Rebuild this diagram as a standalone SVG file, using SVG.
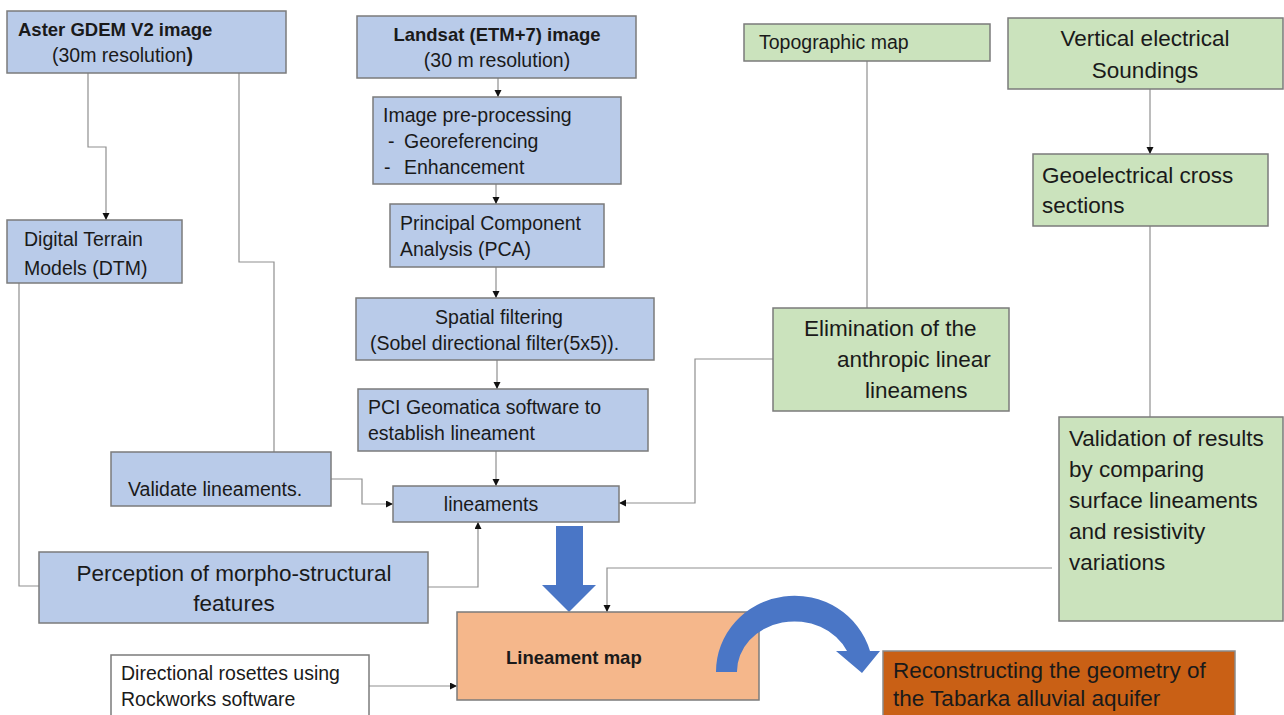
<svg xmlns="http://www.w3.org/2000/svg" width="1284" height="715" viewBox="0 0 1284 715">
<defs>
<marker id="ah" markerWidth="8" markerHeight="8" refX="7" refY="3.5" orient="auto" markerUnits="userSpaceOnUse">
<path d="M0,0 L7,3.5 L0,7 z" fill="#111"/>
</marker>
<style>
.blue{fill:#B9CBE9;stroke:#7b7b7b;stroke-width:1.5}
.green{fill:#CBE3BD;stroke:#7b7b7b;stroke-width:1.5}
.orange{fill:#F5B78B;stroke:#7b7b7b;stroke-width:1.5}
.dark{fill:#C96015;stroke:#8a8a8a;stroke-width:1.5}
.white{fill:#fff;stroke:#7b7b7b;stroke-width:1.5}
text{font-family:"Liberation Sans",Arial,sans-serif;fill:#1a1a1a;font-size:19.5px}
.b{font-weight:bold;font-size:18.5px}
.l{font-size:22.5px}
.m{text-anchor:middle}
.c{fill:none;stroke:#8f8f8f;stroke-width:1.2}
.ca{fill:none;stroke:#8f8f8f;stroke-width:1.2;marker-end:url(#ah)}
.big{fill:#4A76C6}
</style>
</defs>
<rect width="1284" height="715" fill="#fff"/>
<g id="connectors">
<path class="ca" d="M88,73 V147 H106 V220"/>
<path class="c" d="M239,73 V262 H274 V452"/>
<path class="ca" d="M498,78 V97"/>
<path class="ca" d="M496,184 V204"/>
<path class="ca" d="M496,267 V298"/>
<path class="ca" d="M497,360 V389"/>
<path class="ca" d="M496,451 V486"/>
<path class="c" d="M867,61 V308"/>
<path class="ca" d="M1150,89 V154"/>
<path class="c" d="M1150,226 V417"/>
<path class="ca" d="M1052,568 H607 V612"/>
<path class="ca" d="M773,359 H695 V503 H619"/>
<path class="ca" d="M331,479 H362 V504 H393"/>
<path class="ca" d="M428,587 H478 V522"/>
<path class="c" d="M19,283 V586 H39"/>
<path class="ca" d="M369,686 H457"/>
</g>
<g id="aster">
<rect class="blue" x="7" y="11" width="279" height="62"/>
<text class="b" x="18" y="36">Aster GDEM V2 image</text>
<text x="52" y="62">(30m resolution<tspan font-weight="bold">)</tspan></text>
</g>
<g id="dtm">
<rect class="blue" x="7" y="220" width="175" height="63"/>
<text x="24" y="246" font-size="18.6">Digital Terrain</text>
<text x="24" y="275" font-size="18.6">Models (DTM)</text>
</g>
<g id="landsat">
<rect class="blue" x="357" y="16" width="279" height="62"/>
<text class="b m" x="497" y="41">Landsat (ETM+7) image</text>
<text class="m" x="497" y="67">(30 m resolution)</text>
</g>
<g id="preprocessing">
<rect class="blue" x="373" y="97" width="248" height="87"/>
<text x="383" y="122">Image pre-processing</text>
<text x="388" y="148">-<tspan x="404">Georeferencing</tspan></text>
<text x="384" y="174">-<tspan x="404">Enhancement</tspan></text>
</g>
<g id="pca">
<rect class="blue" x="390" y="204" width="214" height="63"/>
<text x="400" y="230">Principal Component</text>
<text x="400" y="256">Analysis (PCA)</text>
</g>
<g id="spatial">
<rect class="blue" x="356" y="298" width="298" height="62"/>
<text class="m" x="499" y="324">Spatial filtering</text>
<text x="370" y="350">(Sobel directional filter(5x5)).</text>
</g>
<g id="pci">
<rect class="blue" x="358" y="389" width="290" height="62"/>
<text x="368" y="414">PCI Geomatica software to</text>
<text x="368" y="440">establish lineament</text>
</g>
<g id="validate">
<rect class="blue" x="111" y="452" width="220" height="54"/>
<text x="128" y="496">Validate lineaments.</text>
</g>
<g id="lineaments">
<rect class="blue" x="393" y="486" width="226" height="36"/>
<text class="m" x="491" y="511">lineaments</text>
</g>
<g id="perception">
<rect class="blue" x="39" y="552" width="389" height="71"/>
<text class="l m" x="234" y="581">Perception of morpho-structural</text>
<text class="l m" x="234" y="611">features</text>
</g>
<g id="topographic">
<rect class="green" x="744" y="24" width="246" height="37"/>
<text x="759" y="49">Topographic map</text>
</g>
<g id="ves">
<rect class="green" x="1008" y="18" width="275" height="71"/>
<text class="l m" x="1145" y="46">Vertical electrical</text>
<text class="l m" x="1145" y="78">Soundings</text>
</g>
<g id="geoelectrical">
<rect class="green" x="1033" y="154" width="235" height="72"/>
<text class="l" x="1042" y="183">Geoelectrical cross</text>
<text class="l" x="1042" y="213">sections</text>
</g>
<g id="elimination">
<rect class="green" x="773" y="308" width="236" height="103"/>
<text class="l" x="804" y="336">Elimination of the</text>
<text class="l" x="837" y="367">anthropic linear</text>
<text class="l" x="865" y="398">lineamens</text>
</g>
<g id="validation">
<rect class="green" x="1059" y="417" width="224" height="204"/>
<text class="l" x="1069" y="446">Validation of results</text>
<text class="l" x="1069" y="477">by comparing</text>
<text class="l" x="1069" y="508">surface lineaments</text>
<text class="l" x="1069" y="539">and resistivity</text>
<text class="l" x="1069" y="570">variations</text>
</g>
<g id="big-arrow">
<path class="big" d="M556,526 H583 V585 H596 L569,612 L542,585 H556 Z"/>
</g>
<g id="lineament-map">
<rect class="orange" x="457" y="612" width="302" height="88"/>
<text class="b" x="506" y="664">Lineament map</text>
</g>
<g id="curved-arrow">
<path class="big" d="M716,672 A78.5,76 0 0 1 870,651 L880,651 L862,673 L836,651 L847,651 A57.5,50 0 0 0 737,672 Z"/>
</g>
<g id="directional">
<rect class="white" x="111" y="655" width="258" height="70"/>
<text x="121" y="680">Directional rosettes using</text>
<text x="121" y="706">Rockworks software</text>
</g>
<g id="reconstructing">
<rect class="dark" x="883" y="651" width="352" height="74"/>
<text class="l" x="893" y="678">Reconstructing the geometry of</text>
<text class="l" x="893" y="706">the Tabarka alluvial aquifer</text>
</g>
</svg>
